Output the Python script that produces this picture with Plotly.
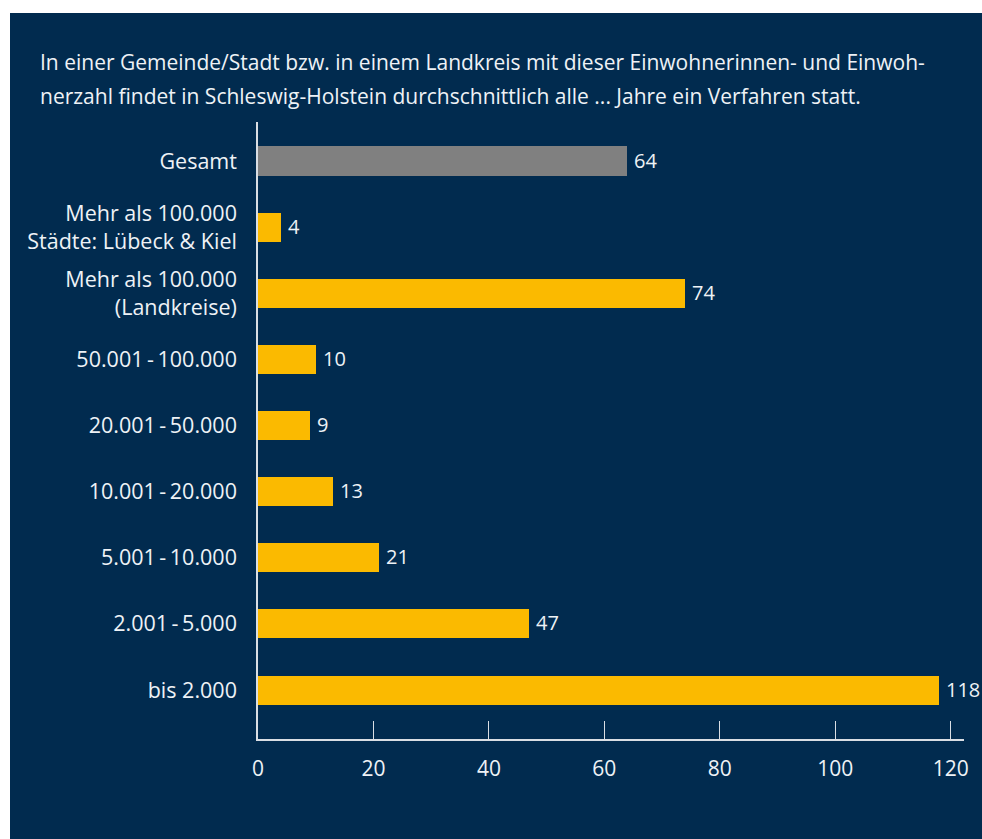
import plotly.graph_objects as go

# Kategorien (von oben nach unten) und durchschnittlicher Abstand in Jahren
categories = [
    "Gesamt",
    "Mehr als 100.000<br>Städte: Lübeck & Kiel",
    "Mehr als 100.000<br>(Landkreise)",
    "50.001\u2009-\u2009100.000",
    "20.001\u2009-\u200950.000",
    "10.001\u2009-\u200920.000",
    "5.001\u2009-\u200910.000",
    "2.001\u2009-\u20095.000",
    "bis 2.000",
]
years = [64, 4, 74, 10, 9, 13, 21, 47, 118]
bar_colors = ["#808080"] + ["#FBBA00"] * 8
x_ticks = [0, 20, 40, 60, 80, 100, 120]

title_lines = [
    "In einer Gemeinde/Stadt bzw. in einem Landkreis mit dieser Einwohnerinnen- und Einwoh-",
    "nerzahl findet in Schleswig-Holstein durchschnittlich alle ... Jahre ein Verfahren statt.",
]

NAVY = "#012B4F"
TEXT = "#EEF2F6"
FONT = "Open Sans"

W, H = 982, 839
L, R, T, B = 258, 18, 122, 100
pw, ph = W - L - R, H - T - B


def px_x(px):
    return (px - L) / pw


def px_y(py):
    return (H - B - py) / ph


fig = go.Figure(
    go.Bar(
        x=years,
        y=categories,
        orientation="h",
        marker=dict(color=bar_colors, line=dict(width=0)),
        width=0.44,
        hoverinfo="skip",
    )
)

# Wertbeschriftungen rechts neben den Balken
for cat, val in zip(categories, years):
    fig.add_annotation(
        x=val, y=cat, xref="x", yref="y",
        text=str(val), showarrow=False,
        xanchor="left", yanchor="middle", xshift=5, yshift=1,
        font=dict(family=FONT, size=20, color=TEXT),
    )

# Überschrift in zwei Zeilen
for i, line in enumerate(title_lines):
    fig.add_annotation(
        x=px_x(38), y=px_y(62 + 34 * i), xref="paper", yref="paper",
        text=line, showarrow=False, xanchor="left", yanchor="middle",
        font=dict(family=FONT, size=21, color=TEXT),
    )

# Dunkelblaue Fläche hinter dem Diagramm
fig.add_shape(
    type="rect", xref="paper", yref="paper", layer="below",
    x0=px_x(10), x1=px_x(W + 5), y0=px_y(H + 5), y1=px_y(13),
    fillcolor=NAVY, line=dict(width=0),
)

fig.update_layout(
    width=W, height=H,
    margin=dict(l=L, r=R, t=T, b=B, pad=0),
    paper_bgcolor="white",
    plot_bgcolor=NAVY,
    showlegend=False,
    bargap=0,
    font=dict(family=FONT, color=TEXT),
    xaxis=dict(
        range=[0, 122.3],
        tickvals=x_ticks,
        ticks="inside", ticklen=18, tickwidth=1.3, tickcolor="#D9DEE4",
        showline=True, linecolor="#D9DEE4", linewidth=1.5,
        showgrid=False, zeroline=False,
        tickfont=dict(family=FONT, size=21, color=TEXT),
        ticklabelstandoff=10,
    ),
    yaxis=dict(
        categoryorder="array",
        categoryarray=categories[::-1],
        range=[-0.74, 8.59],
        showline=True, linecolor="#D9DEE4", linewidth=1.5,
        showgrid=False, zeroline=False, ticks="",
        tickfont=dict(family=FONT, size=21.5, color=TEXT),
        ticklabelstandoff=15,
    ),
)

fig.write_html("out.html")
